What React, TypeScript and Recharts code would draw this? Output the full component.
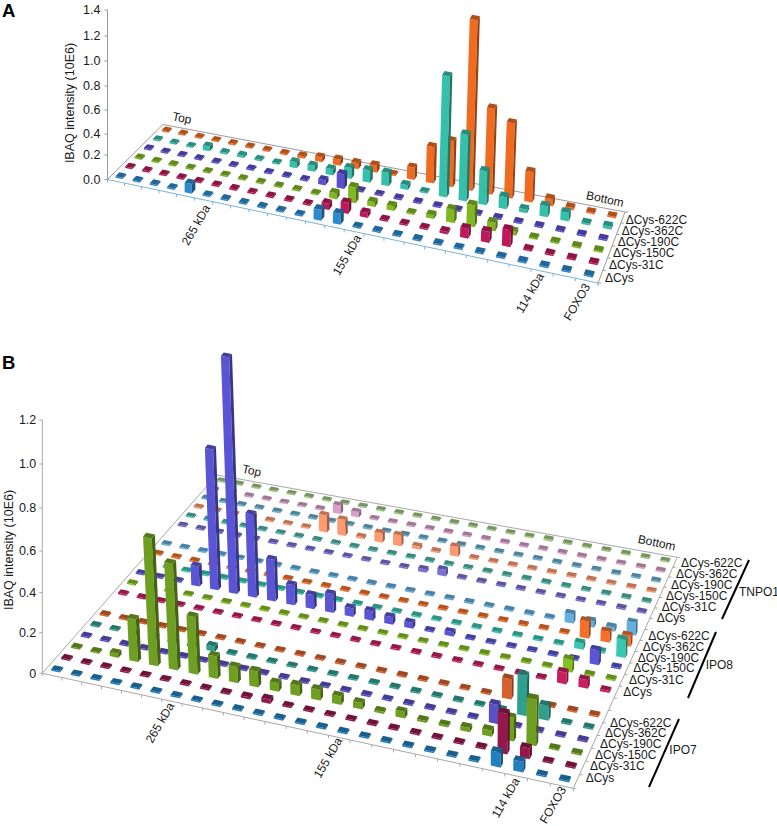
import React from "react";
import { ScatterChart, Scatter, XAxis, YAxis } from "recharts";

const FONT = "'Liberation Sans', Arial, sans-serif";
const FRACTIONS = 25;

// ---------- Panel A values (IBAQ intensity, 10E6), one list per construct, 25 fractions ----------
const aCys = [0,0,0,0,.08,0,0,0,0,0,0,.09,.09,0,0,0,0,0,0,0,0,0,0,0,0];
const a31C = [0,0,0,0,0,0,0,0,0,0,0,.05,.09,.04,0,0,0,.02,.08,.09,.14,0,0,0,0];
const a150C = [0,0,0,0,0,0,0,0,0,0,0,.05,.13,.04,.04,0,.03,.11,.18,.07,.03,0,0,0,0];
const a190C = [0,0,0,0,0,0,0,0,0,0,.04,.12,0,0,0,0,0,0,0,0,0,0,0,0,0];
const a362C = [0,0,0,.04,.015,.02,0,0,.05,.05,.05,.09,.1,.11,.04,.01,1.0,.55,.28,.1,.03,.09,.07,.015,.025];
const a622C = [0,0,0,0,0,0,0,0,.02,.04,.05,.05,.06,.01,.1,.3,.38,1.41,.71,.62,.25,.06,.02,.01,.01];

// ---------- Panel B values ----------
const ipo7Cys = [0,0,0,0,0,0,0,0,0,0,0,0,0,0,0,0,0,0,0,0,0,.07,.05,0,0];
const ipo731C = [0,0,0,0,0,0,0,0,0,.01,.02,0,0,0,0,0,0,0,0,0,0,.19,.05,0,0];
const ipo7150C = [0,0,.02,.2,.6,.5,.27,.105,.075,.075,.04,.05,.05,.04,.03,.01,.03,.01,.01,.02,.03,.11,.22,0,0];
const ipo7190C = [0,0,0,0,0,0,0,0,0,0,0,0,0,0,0,0,0,0,0,0,.09,0,0,0,0];
const ipo7362C = [0,0,0,0,0,0,.025,0,0,0,0,0,0,0,0,0,0,0,0,0,0,.19,.07,0,0];
const ipo7622C = [0,0,0,0,0,0,0,0,0,0,0,0,0,0,0,0,0,0,0,0,.095,.02,0,0,0];

const ipo8Cys = [0,0,0,0,0,0,0,0,0,0,0,0,0,0,0,0,0,0,0,0,0,0,.055,.04,.01];
const ipo831C = [0,0,0,0,0,0,0,0,0,0,0,0,0,0,0,0,0,0,0,0,0,0,.06,0,0];
const ipo8150C = [0,0,0,.094,.66,1.11,.39,.195,.094,.065,.088,.04,.044,.035,.027,0,.02,0,0,0,0,0,0,.07,0];
const ipo8190C = [0,0,0,0,0,0,0,0,0,0,0,0,0,0,0,0,0,0,0,0,0,0,.03,.01,.085];
const ipo8362C = [0,0,0,0,0,0,0,0,0,0,0,0,0,0,0,0,0,0,0,0,0,.005,.08,.05,.05];
const ipo8622C = [0,0,0,0,0,0,0,0,0,0,0,0,0,0,0,0,0,0,0,0,0,.045,.03,.02,.06];

const tnpoCys = [0,0,0,0,0,0,0,0,0,0,0,0,0,.015,.03,0,0,0,0,0,0,0,0,0,0];
const tnpo31C = [0,0,0,0,0,0,0,0,0,0,0,0,0,0,0,0,0,0,0,0,0,0,0,0,0];
const tnpo150C = [0,0,0,0,0,0,0,.08,.075,.01,.045,.05,.015,0,.045,0,0,0,0,0,0,0,0,0,0];
const tnpo190C = [0,0,0,0,0,0,0,0,0,0,0,0,0,0,0,0,0,0,0,0,0,0,0,0,0];
const tnpo362C = [0,0,0,0,0,0,0,.04,.025,0,0,0,0,0,0,0,0,0,0,0,0,0,0,0,0];
const tnpo622C = [0,0,0,0,0,0,0,0,0,0,0,0,.005,0,0,0,0,0,.01,0,0,0,0,0,0];

// ---------- Colours ----------
const aColors = ["#2b8ad0", "#c0185a", "#7fb81f", "#5b4fd0", "#35c0aa", "#f06a20"];
const ipo7Colors = ["#2280c0", "#96174c", "#6f9f20", "#5a50c8", "#2fa090", "#d8602a"];
const ipo8Colors = ["#c81f60", "#85c020", "#5a55d5", "#38c8b0", "#f57028", "#60b0e0"];
const tnpoColors = ["#7a70d8", "#50b8a8", "#ff9a70", "#6ab0d0", "#d8a0c8", "#a0c880"];

type Row = { name: string; index: number; color: string; values: number[] };
const rowNames = ["ΔCys", "ΔCys-31C", "ΔCys-150C", "ΔCys-190C", "ΔCys-362C", "ΔCys-622C"];

const aValues = [aCys, a31C, a150C, a190C, a362C, a622C];
const ipo7Values = [ipo7Cys, ipo731C, ipo7150C, ipo7190C, ipo7362C, ipo7622C];
const ipo8Values = [ipo8Cys, ipo831C, ipo8150C, ipo8190C, ipo8362C, ipo8622C];
const tnpoValues = [tnpoCys, tnpo31C, tnpo150C, tnpo190C, tnpo362C, tnpo622C];

const aRows: Row[] = aValues.map((values, i) => ({ name: rowNames[i], index: i, color: aColors[i], values }));
const bRows: Row[] = [
  ...ipo7Values.map((values, i) => ({ name: "IPO7 " + rowNames[i], index: i, color: ipo7Colors[i], values })),
  ...ipo8Values.map((values, i) => ({ name: "IPO8 " + rowNames[i], index: i + 7, color: ipo8Colors[i], values })),
  ...tnpoValues.map((values, i) => ({ name: "TNPO1 " + rowNames[i], index: i + 14, color: tnpoColors[i], values })),
];

// ---------- Axis labels ----------
const aTickLabels = ["0.0", "0.2", "0.4", "0.6", "0.8", "1.0", "1.2", "1.4"];
const bTickLabels = ["0", "0.2", "0.4", "0.6", "0.8", "1.0", "1.2"];
const AXIS_TITLE = "IBAQ intensity (10E6)";

// ---------- Layout (page pixels) ----------
type Pt = [number, number];
type Label = { x: number; y: number; text: string; rot?: number; anchor?: string; size?: number };
type Line = { x: number; y: number; x2: number; y2: number; color: string; w: number };

function labelRows(names: string[], pos: Pt[]): Label[] {
  return names.map((text, i) => ({ x: pos[i][0], y: pos[i][1], text, anchor: "start" }));
}
const K_ROT = -60;

const layoutA = {
  letter: "A", letterX: 2, letterY: 17,
  front0: [107.5, 179.5] as Pt, front1: [598, 283] as Pt, back1: [625, 212] as Pt, back0: [163, 124.5] as Pt,
  rowCount: 6, k: 121, hu: 0.2, hv: 0.2, leanX: 250, leanRate: 0.00014,
  tickPx: [179.5, 155, 134, 110, 86, 61, 36, 10], tickLabels: aTickLabels,
  axisTop: 10, titleX: 70, titleY: 103, frontColor: "#7db3d8", frameColor: "#9a9a9a", tickMargin: 4,
  rows: aRows, extraLines: [] as Line[],
  labels: [
    ...labelRows([...rowNames].reverse(), [[625.7, 220], [621.7, 230.7], [617.7, 241.7], [613, 253], [609, 265], [605, 277.7]]),
    { x: 182, y: 118, text: "Top", rot: 12 },
    { x: 605, y: 199, text: "Bottom", rot: 12 },
    { x: 196, y: 225, text: "265 kDa", rot: K_ROT },
    { x: 347, y: 255, text: "155 kDa", rot: K_ROT },
    { x: 530, y: 293, text: "114 kDa", rot: K_ROT },
    { x: 577, y: 302, text: "FOXO3", rot: K_ROT },
  ] as Label[],
};

const layoutB = {
  letter: "B", letterX: 2, letterY: 369,
  front0: [42.3, 673.3] as Pt, front1: [573.3, 788.3] as Pt, back1: [677.3, 557.3] as Pt, back0: [216.7, 475] as Pt,
  rowCount: 20, k: 213, hu: 0.22, hv: 0.17, leanX: 447, leanRate: 0.00016,
  tickPx: [673.3, 632.7, 592.7, 551, 508, 464, 420], tickLabels: bTickLabels,
  axisTop: 420, titleX: 9, titleY: 550, frontColor: "#a8a8a8", frameColor: "#a8a8a8", tickMargin: 3,
  rows: bRows,
  extraLines: [
    { x: 749, y: 560, x2: 722, y2: 619, color: "#000", w: 2 },
    { x: 716, y: 632, x2: 688, y2: 698, color: "#000", w: 2 },
    { x: 679, y: 719, x2: 649, y2: 787, color: "#000", w: 2 },
  ] as Line[],
  labels: [
    ...labelRows([...rowNames].reverse(), [[681, 563.3], [676, 574], [671, 585], [666, 595.7], [661.7, 606.7], [656.7, 618.3]]),
    ...labelRows([...rowNames].reverse(), [[648.3, 636], [642.7, 646.7], [637.7, 657.7], [633.3, 668.3], [629, 680], [623.3, 691.7]]),
    ...labelRows([...rowNames].reverse(), [[610, 722.7], [605, 733.3], [600, 744.3], [595, 755], [590, 766], [585.7, 777.7]]),
    { x: 739, y: 592.3, text: "TNPO1", anchor: "start" },
    { x: 705.7, y: 665, text: "IPO8", anchor: "start" },
    { x: 669.3, y: 750, text: "IPO7", anchor: "start" },
    { x: 251.7, y: 470.7, text: "Top", rot: 12 },
    { x: 656.7, y: 542.7, text: "Bottom", rot: 12 },
    { x: 160, y: 722.7, text: "265 kDa", rot: K_ROT },
    { x: 328, y: 757.7, text: "155 kDa", rot: K_ROT },
    { x: 505.7, y: 797.7, text: "114 kDa", rot: K_ROT },
    { x: 553, y: 805, text: "FOXO3", rot: K_ROT },
  ] as Label[],
};

// ---------- Perspective floor ----------
function homography(p0: Pt, p1: Pt, p2: Pt, p3: Pt) {
  // unit square (0,0),(1,0),(1,1),(0,1) -> p0,p1,p2,p3
  const dx1 = p1[0] - p2[0], dx2 = p3[0] - p2[0], sx = p0[0] - p1[0] + p2[0] - p3[0];
  const dy1 = p1[1] - p2[1], dy2 = p3[1] - p2[1], sy = p0[1] - p1[1] + p2[1] - p3[1];
  const den = dx1 * dy2 - dx2 * dy1;
  const g = (sx * dy2 - dx2 * sy) / den;
  const h = (dx1 * sy - sx * dy1) / den;
  const a = p1[0] - p0[0] + g * p1[0], b = p3[0] - p0[0] + h * p3[0], c = p0[0];
  const d = p1[1] - p0[1] + g * p1[1], e = p3[1] - p0[1] + h * p3[1], f = p0[1];
  return (u: number, v: number): Pt => {
    const w = g * u + h * v + 1;
    return [(a * u + b * v + c) / w, (d * u + e * v + f) / w];
  };
}

function shade(hex: string, f: number) {
  const n = parseInt(hex.slice(1), 16);
  const c = [(n >> 16) & 255, (n >> 8) & 255, n & 255].map((v) => Math.round(v * f));
  return `rgb(${c[0]},${c[1]},${c[2]})`;
}

const poly = (pts: Pt[]) => pts.map((p) => `${p[0].toFixed(2)},${p[1].toFixed(2)}`).join(" ");

function Panel({ cfg }: { cfg: typeof layoutA }) {
  const project = homography(cfg.front0, cfg.front1, cfg.back1, cfg.back0);
  const du = cfg.hu / FRACTIONS;
  const dv = cfg.hv / cfg.rowCount;

  const box = (p: any) => {
    const { cx, cy, payload, fill } = p;
    const { u, v, value } = payload;
    const [ox, oy] = project(u, v);
    const at = (a: number, b: number): Pt => {
      const q = project(a, b);
      return [q[0] - ox + cx, q[1] - oy + cy];
    };
    const h = Math.max(value * cfg.k, 1.5);
    const lean = h * (cx - cfg.leanX) * cfg.leanRate;
    const A = at(u - du, v - dv), B = at(u + du, v - dv), C = at(u + du, v + dv), D = at(u - du, v + dv);
    const up = (q: Pt): Pt => [q[0] + lean, q[1] - h];
    return (
      <g>
        <polygon points={poly([A, B, up(B), up(A)])} fill={fill} />
        <polygon points={poly([B, C, up(C), up(B)])} fill={shade(fill, 0.62)} />
        <polygon points={poly([up(A), up(B), up(C), up(D)])} fill={shade(fill, 0.74)} />
      </g>
    );
  };

  const rowsBackToFront = [...cfg.rows].sort((a, b) => b.index - a.index);

  const edge = (a: Pt, b: Pt, color: string, w = 1): Line => ({ x: a[0], y: a[1], x2: b[0], y2: b[1], color, w });
  const frame: Line[] = [
    edge(cfg.back0, cfg.back1, cfg.frameColor),
    edge(cfg.front0, cfg.back0, cfg.frameColor),
    edge(cfg.front1, cfg.back1, cfg.frameColor),
    edge(cfg.front0, cfg.front1, cfg.frontColor),
    edge([cfg.front0[0], cfg.axisTop], cfg.front0, cfg.frameColor),
  ];
  for (let i = 0; i <= FRACTIONS; i++) {
    const q = project(i / FRACTIONS, 0);
    frame.push(edge(q, [q[0], q[1] + 3], cfg.frontColor));
  }
  for (let i = 0; i <= cfg.rowCount; i++) {
    const q = project(1, i / cfg.rowCount);
    frame.push(edge(q, [q[0] + 3, q[1]], cfg.frameColor));
  }

  const lineShape = (p: any) => {
    const { cx, cy, payload: l } = p;
    return <line x1={cx} y1={cy} x2={cx + l.x2 - l.x} y2={cy + l.y2 - l.y} stroke={l.color} strokeWidth={l.w} />;
  };
  const labelShape = (p: any) => {
    const { cx, cy, payload: l } = p;
    return (
      <text
        x={cx}
        y={cy}
        textAnchor={l.anchor ?? "middle"}
        dominantBaseline="central"
        fontFamily={FONT}
        fontSize={l.size ?? 12}
        fill="#1a1a1a"
        transform={l.rot ? `rotate(${l.rot} ${cx} ${cy})` : undefined}
      >
        {l.text}
      </text>
    );
  };

  return (
    <ScatterChart
      width={777}
      height={826}
      margin={{ top: 0, right: 0, bottom: 0, left: 0 }}
      style={{ position: "absolute", left: 0, top: 0 }}
    >
      <XAxis type="number" dataKey="x" domain={[cfg.front0[0], 777]} hide />
      <YAxis
        type="number"
        dataKey="y"
        width={cfg.front0[0]}
        reversed
        domain={[0, 826]}
        ticks={cfg.tickPx}
        interval={0}
        axisLine={false}
        tickSize={3}
        tickMargin={cfg.tickMargin}
        tickLine={{ stroke: cfg.frameColor }}
        tick={{ fill: "#1a1a1a", fontSize: 12.5, fontFamily: FONT }}
        tickFormatter={(v: number) => cfg.tickLabels[cfg.tickPx.indexOf(v)]}
        label={{
          content: () => (
            <g>
              <text
                x={cfg.titleX}
                y={cfg.titleY}
                textAnchor="middle"
                dominantBaseline="central"
                fontFamily={FONT}
                fontSize={12.5}
                fill="#1a1a1a"
                transform={`rotate(-90 ${cfg.titleX} ${cfg.titleY})`}
              >
                {AXIS_TITLE}
              </text>
              <text x={cfg.letterX} y={cfg.letterY} fontFamily={FONT} fontWeight="bold" fontSize={18.5} fill="#000">
                {cfg.letter}
              </text>
            </g>
          ),
        }}
      />
      <Scatter name="frame" data={frame} shape={lineShape} isAnimationActive={false} />
      {rowsBackToFront.map((row) => (
        <Scatter
          key={row.name}
          name={row.name}
          fill={row.color}
          isAnimationActive={false}
          shape={box}
          data={row.values.map((value, f) => {
            const u = (f + 0.5) / FRACTIONS;
            const v = (row.index + 0.5) / cfg.rowCount;
            const [x, y] = project(u, v);
            return { x, y, u, v, value };
          })}
        />
      ))}
      <Scatter name="labels" data={cfg.labels} shape={labelShape} isAnimationActive={false} />
      {cfg.extraLines.length > 0 && (
        <Scatter name="groups" data={cfg.extraLines} shape={lineShape} isAnimationActive={false} />
      )}
    </ScatterChart>
  );
}

export default function App() {
  return (
    <div style={{ position: "absolute", left: 0, top: 0, width: 777, height: 826, background: "#fff" }}>
      <Panel cfg={layoutA} />
      <Panel cfg={layoutB as any} />
    </div>
  );
}
